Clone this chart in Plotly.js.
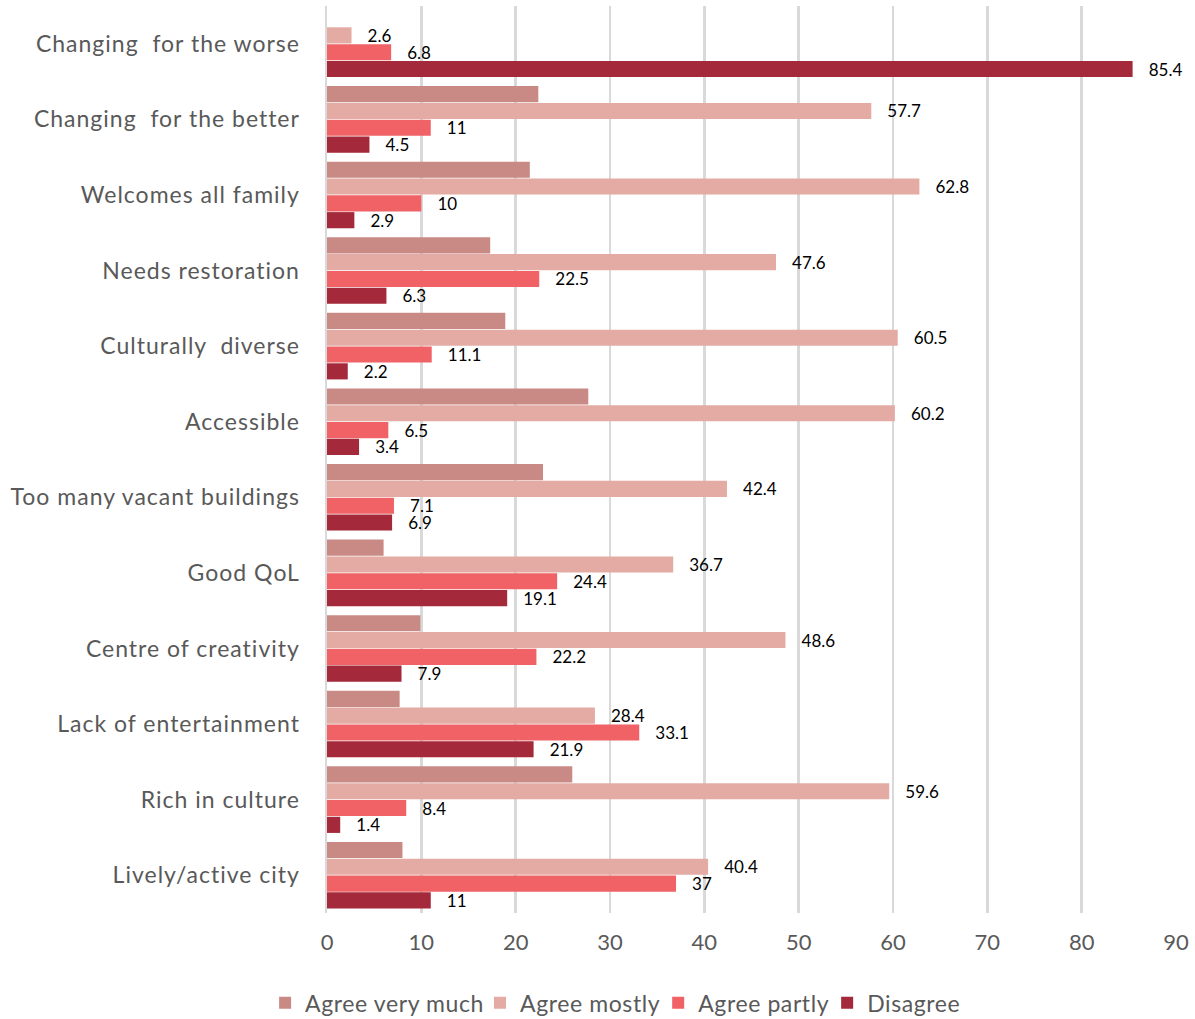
<!DOCTYPE html>
<html>
<head>
<meta charset="utf-8">
<script src="https://cdn.plot.ly/plotly-3.0.1.min.js"></script>
<style>
html,body{margin:0;padding:0;background:#fff;}
#chart{width:1195px;height:1019px;}
#chart .ytick text{letter-spacing:1px;}
#chart .legendtext{letter-spacing:0.6px;}
</style>
</head>
<body>
<div id="chart"></div>
<script>
const categories = [
  "Changing  for the worse",
  "Changing  for the better",
  "Welcomes all family",
  "Needs restoration",
  "Culturally  diverse",
  "Accessible",
  "Too many vacant buildings",
  "Good QoL",
  "Centre of creativity",
  "Lack of entertainment",
  "Rich in culture",
  "Lively/active city"
];
const seriesNames = ["Agree very much", "Agree mostly", "Agree partly", "Disagree"];
const agreeVeryMuch = [null, 22.4, 21.5, 17.3, 18.9, 27.7, 22.9, 6.0, 9.9, 7.7, 26.0, 8.0];
const agreeMostly   = [2.6, 57.7, 62.8, 47.6, 60.5, 60.2, 42.4, 36.7, 48.6, 28.4, 59.6, 40.4];
const agreePartly   = [6.8, 11, 10, 22.5, 11.1, 6.5, 7.1, 24.4, 22.2, 33.1, 8.4, 37];
const disagree      = [85.4, 4.5, 2.9, 6.3, 2.2, 3.4, 6.9, 19.1, 7.9, 21.9, 1.4, 11];
const xTicks = [0, 10, 20, 30, 40, 50, 60, 70, 80, 90];

const colors = ["#C98A85", "#E3ABA4", "#F06266", "#A4293B"];
const values = [agreeVeryMuch, agreeMostly, agreePartly, disagree];
const showLabels = [false, true, true, true];
const font = "Lato, 'Open Sans', sans-serif";

const traces = values.map((v, i) => ({
  type: "bar",
  orientation: "h",
  name: seriesNames[i],
  y: categories,
  x: v,
  marker: {color: colors[i], line: {width: 0}},
  text: showLabels[i] ? v.map(val => val == null ? "" : String(val)) : undefined,
  texttemplate: showLabels[i] ? "\u00a0\u00a0\u00a0%{text}" : undefined,
  textposition: showLabels[i] ? "outside" : "none",
  constraintext: "none",
  cliponaxis: false,
  textfont: {family: font, size: 17, color: "#000"},
  hoverinfo: "x+name"
}));

const layout = {
  width: 1195,
  height: 1019,
  margin: {l: 327, r: 19, t: 6, b: 106, autoexpand: false},
  barmode: "group",
  bargap: 0.11,
  bargroupgap: 0.04,
  paper_bgcolor: "#fff",
  plot_bgcolor: "#fff",
  font: {family: font, color: "#595959"},
  showlegend: true,
  legend: {
    orientation: "h",
    x: 0.337, xanchor: "center",
    yref: "container",
    y: 0.016, yanchor: "middle",
    font: {family: font, size: 23, color: "#595959"},
    traceorder: "normal",
    itemwidth: 30
  },
  xaxis: {
    range: [0, 90],
    tickvals: xTicks,
    ticktext: xTicks.map(String),
    showgrid: true,
    gridcolor: "#D9D9D9",
    gridwidth: 2.5,
    zeroline: false,
    showline: false,
    tickfont: {family: font, size: 22, color: "#595959"},
    ticks: "",
    ticklabelstandoff: 14,
    fixedrange: true
  },
  yaxis: {
    type: "category",
    autorange: "reversed",
    showgrid: false,
    zeroline: false,
    showline: true,
    linecolor: "#D9D9D9",
    linewidth: 2.5,
    ticks: "",
    ticklabelstandoff: 20,
    tickfont: {family: font, size: 23, color: "#595959"},
    fixedrange: true
  }
};

Plotly.newPlot("chart", traces, layout, {displayModeBar: false, staticPlot: true});
</script>
</body>
</html>
